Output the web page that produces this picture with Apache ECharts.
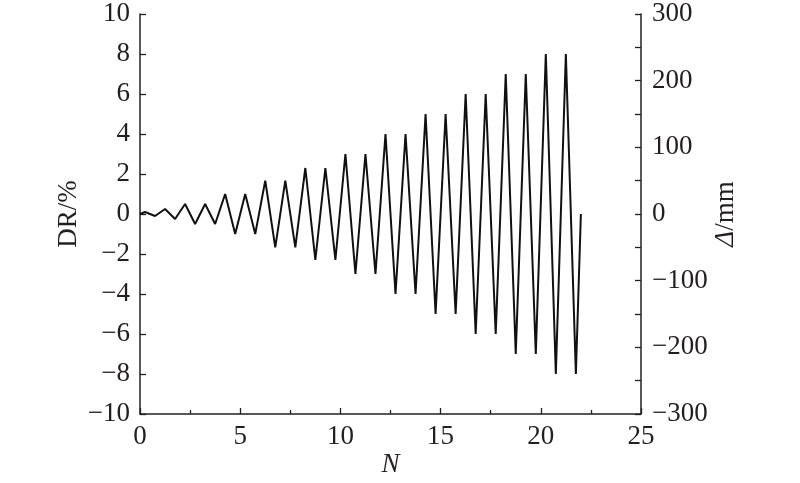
<!DOCTYPE html>
<html>
<head>
<meta charset="utf-8">
<script src="https://cdn.jsdelivr.net/npm/echarts@6/dist/echarts.min.js"></script>
<style>
html,body{margin:0;padding:0;background:#fff;}
#c{width:800px;height:483px;}
</style>
</head>
<body>
<div id="c"></div>
<script>
// Cycle count N (x) and drift ratio DR in % (left axis)
var nValues = [0, 0.25, 0.75, 1.25, 1.75, 2.25, 2.75, 3.25, 3.75, 4.25, 4.75, 5.25, 5.75, 6.25, 6.75,
  7.25, 7.75, 8.25, 8.75, 9.25, 9.75, 10.25, 10.75, 11.25, 11.75, 12.25, 12.75, 13.25, 13.75,
  14.25, 14.75, 15.25, 15.75, 16.25, 16.75, 17.25, 17.75, 18.25, 18.75, 19.25, 19.75, 20.25,
  20.75, 21.25, 21.75, 22];
var drValues = [0, 0.1, -0.1, 0.25, -0.25, 0.5, -0.5, 0.5, -0.5, 1, -1, 1, -1, 1.67, -1.67,
  1.67, -1.67, 2.3, -2.3, 2.3, -2.3, 3, -3, 3, -3, 4, -4, 4, -4,
  5, -5, 5, -5, 6, -6, 6, -6, 7, -7, 7, -7, 8,
  -8, 8, -8, 0];
var xTicks = [0, 5, 10, 15, 20, 25];
var leftTicks = [-10, 10, 2];   // min, max, interval
var rightTicks = [-300, 300, 100];

var FONT = '"Liberation Serif", "Times New Roman", Times, serif';
var INK = '#231f20';
var FS = 27;
var lineData = nValues.map(function (n, i) { return [n, drValues[i]]; });
function minus(v) { return String(v).replace('-', '\u2212'); }

var chart = echarts.init(document.getElementById('c'), null, {renderer: 'canvas'});
var axisCommon = {
  axisLine: {show: true, onZero: false, lineStyle: {color: INK, width: 1.5}},
  axisTick: {show: true, inside: true, length: 6, lineStyle: {color: INK, width: 1.3}},
  splitLine: {show: false},
  nameMoveOverlap: false,
  nameTextStyle: {color: INK, fontFamily: FONT, fontSize: FS}
};
chart.setOption({
  animation: false,
  backgroundColor: '#fff',
  grid: {left: 140, right: 159, top: 14, bottom: 69, containLabel: false, outerBoundsMode: 'none'},
  xAxis: Object.assign({}, axisCommon, {
    type: 'value', min: xTicks[0], max: xTicks[xTicks.length - 1], interval: 5,
    name: 'N', nameLocation: 'middle', nameGap: 37,
    nameTextStyle: {color: INK, fontFamily: FONT, fontSize: FS, fontStyle: 'italic'},
    axisLabel: {color: INK, fontFamily: FONT, fontSize: FS, margin: 9},
    minorTick: {show: true, splitNumber: 2, length: 4, lineStyle: {color: INK, width: 1.3}}
  }),
  yAxis: [
    Object.assign({}, axisCommon, {
      type: 'value', position: 'left', min: leftTicks[0], max: leftTicks[1], interval: leftTicks[2],
      name: 'DR/%', nameLocation: 'middle', nameRotate: 90, nameGap: 58,
      axisLabel: {color: INK, fontFamily: FONT, fontSize: FS, margin: 10, formatter: minus}
    }),
    Object.assign({}, axisCommon, {
      type: 'value', position: 'right', min: rightTicks[0], max: rightTicks[1], interval: rightTicks[2],
      name: '{i|\u0394}/mm', nameLocation: 'middle', nameRotate: 90, nameGap: 71,
      nameTextStyle: {color: INK, fontFamily: FONT, fontSize: FS,
        rich: {i: {fontStyle: 'italic', fontFamily: FONT, fontSize: FS, color: INK}}},
      axisLabel: {color: INK, fontFamily: FONT, fontSize: FS, margin: 11, formatter: minus},
      minorTick: {show: true, splitNumber: 2, length: 6, lineStyle: {color: INK, width: 1.3}}
    })
  ],
  series: [{
    type: 'line', yAxisIndex: 0, data: lineData, showSymbol: false, symbol: 'none',
    lineStyle: {color: '#111', width: 2}, z: 1
  }]
});
</script>
</body>
</html>
